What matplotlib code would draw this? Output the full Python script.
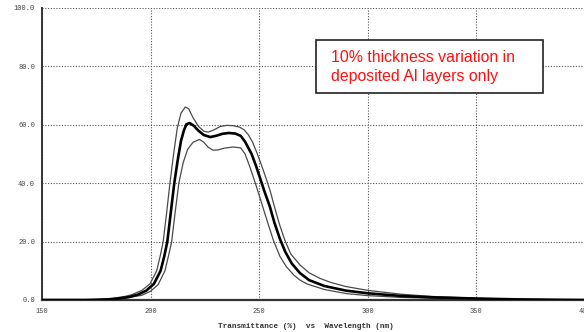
import matplotlib
matplotlib.use("Agg")
import matplotlib.pyplot as plt
from matplotlib.patches import Rectangle

# Wavelength (nm) and transmittance (%) for the nominal design and the +/-10% Al thickness cases
wl_nominal = [150, 170, 180, 185, 190, 194, 198, 201.5, 204.6, 206.3, 207.7, 209.3, 210.9,
              212.5, 214, 215.3, 216.5, 218, 220, 222, 224.5, 227.5, 230, 233, 236, 239,
              241.5, 243.5, 246.5, 248.5, 250.3, 252.5, 254.9, 257, 259.5, 262, 265,
              268.8, 273, 280, 290, 300, 315, 330, 350, 370, 390, 400]
t_nominal = [0, 0, 0.2, 0.5, 1.0, 1.8, 3.2, 5.5, 10, 15, 20, 30, 40,
             48, 54.5, 58, 60.2, 60.6, 59.6, 58, 56.5, 55.8, 56.2, 56.9, 57.2, 57.0,
             56.2, 54.2, 50, 46, 42, 37, 32, 26.5, 21, 16.5, 12.5,
             9.2, 6.8, 4.8, 3.2, 2.3, 1.4, 0.9, 0.5, 0.2, 0.05, 0]

wl_upper = [150, 175, 182, 188, 191.3, 196, 199.7, 202.8, 204.4, 205.8, 207.4, 208.9,
            210.6, 212.3, 214, 216, 217.5, 219.5, 222, 224.5, 226.5, 229, 232, 235, 238,
            241, 243, 245, 247, 249, 251, 253, 255, 257, 259.3, 261.8, 264.5, 268.8, 273,
            278, 283, 290, 300, 315, 330, 350, 370, 390, 400]
t_upper = [0, 0, 0.5, 1.2, 1.8, 3.3, 5.5, 10, 15, 20, 30, 40,
           50, 59, 64, 66.1, 65.5, 62.5, 59.5, 57.8, 57.5, 58.2, 59.4, 59.8, 59.7,
           59.2, 58.3, 56.6, 54, 50.3, 46.3, 42, 37.5, 32, 26, 20.5, 15.8, 12.0, 9.3,
           7.4, 6, 4.6, 3.3, 2.0, 1.2, 0.6, 0.25, 0.05, 0]

wl_lower = [150, 178, 185, 190, 195.9, 200, 203.5, 206.6, 208.2, 209.7, 211.3, 213,
            215, 217, 219.5, 222.5, 224.5, 226.5, 228.8, 231, 234, 238, 241.5, 243.5,
            245.7, 248.8, 252.6, 256.5, 259.5, 262.5, 266, 268.8, 272, 280, 290, 300,
            315, 330, 350, 370, 390, 400]
t_lower = [0, 0, 0.4, 0.9, 1.6, 3.0, 5.3, 10, 15, 20, 30, 40,
           47, 51.5, 54, 55, 54, 52.3, 51.3, 51.4, 52, 52.4, 52.1, 50,
           45.6, 38.7, 29.6, 20.5, 15, 11.4, 8.5, 6.8, 5.5, 3.6, 2.2, 1.5,
           0.9, 0.6, 0.35, 0.15, 0.03, 0]

x_ticks = [150, 200, 250, 300, 350, 400]
x_tick_labels = ["150", "200", "250", "300", "350", "400"]
y_ticks = [0, 20, 40, 60, 80, 100]
y_tick_labels = ["0.0", "20.0", "40.0", "60.0", "80.0", "100.0"]

W, H = 584, 332
fig = plt.figure(figsize=(W / 100, H / 100), dpi=100)
fig.patch.set_facecolor("white")

ax = fig.add_axes([42 / W, 32 / H, 543 / W, 292 / H])
ax.set_xlim(150, 400)
ax.set_ylim(0, 100)

ax.plot(wl_upper, t_upper, color="#4a4a4a", lw=0.9, zorder=3)
ax.plot(wl_lower, t_lower, color="#4a4a4a", lw=0.9, zorder=3)
ax.plot(wl_nominal, t_nominal, color="black", lw=1.9, zorder=4)

mono = "Liberation Mono"
ax.set_xticks(x_ticks)
ax.set_xticklabels(x_tick_labels, fontsize=5, family=mono, color="#444444")
ax.set_yticks(y_ticks)
ax.set_yticklabels(y_tick_labels, fontsize=5, family=mono, color="#444444")
ax.tick_params(axis="both", length=0)
ax.tick_params(axis="x", pad=6)
ax.tick_params(axis="y", pad=5)

ax.grid(True, color="#555555", lw=0.8, linestyle=(0, (1, 1.5)))
ax.set_axisbelow(True)

for side in ("top", "right"):
    ax.spines[side].set_visible(False)
ax.spines["left"].set_color("#333333")
ax.spines["left"].set_linewidth(1.4)
ax.spines["bottom"].set_color("#333333")
ax.spines["bottom"].set_linewidth(1.6)

fig.text(306 / W, 1 - 326.5 / H, "Transmittance (%)  vs  Wavelength (nm)",
         ha="center", va="center", fontsize=5.6, family=mono,
         fontweight="bold", color="#333333")

# annotation box
box = Rectangle((316 / W, 1 - 93 / H), 227 / W, 53 / H, transform=fig.transFigure,
                facecolor="white", edgecolor="#222222", lw=1.2, zorder=10)
fig.add_artist(box)
fig.text(331 / W, 1 - 57 / H, "10% thickness variation in", ha="left", va="center",
         fontsize=11.4, family="Liberation Sans", color="#ff1010", zorder=11)
fig.text(331 / W, 1 - 77 / H, "deposited Al layers only", ha="left", va="center",
         fontsize=11.4, family="Liberation Sans", color="#ff1010", zorder=11)

fig.savefig("out.png", dpi=100, facecolor="white")
